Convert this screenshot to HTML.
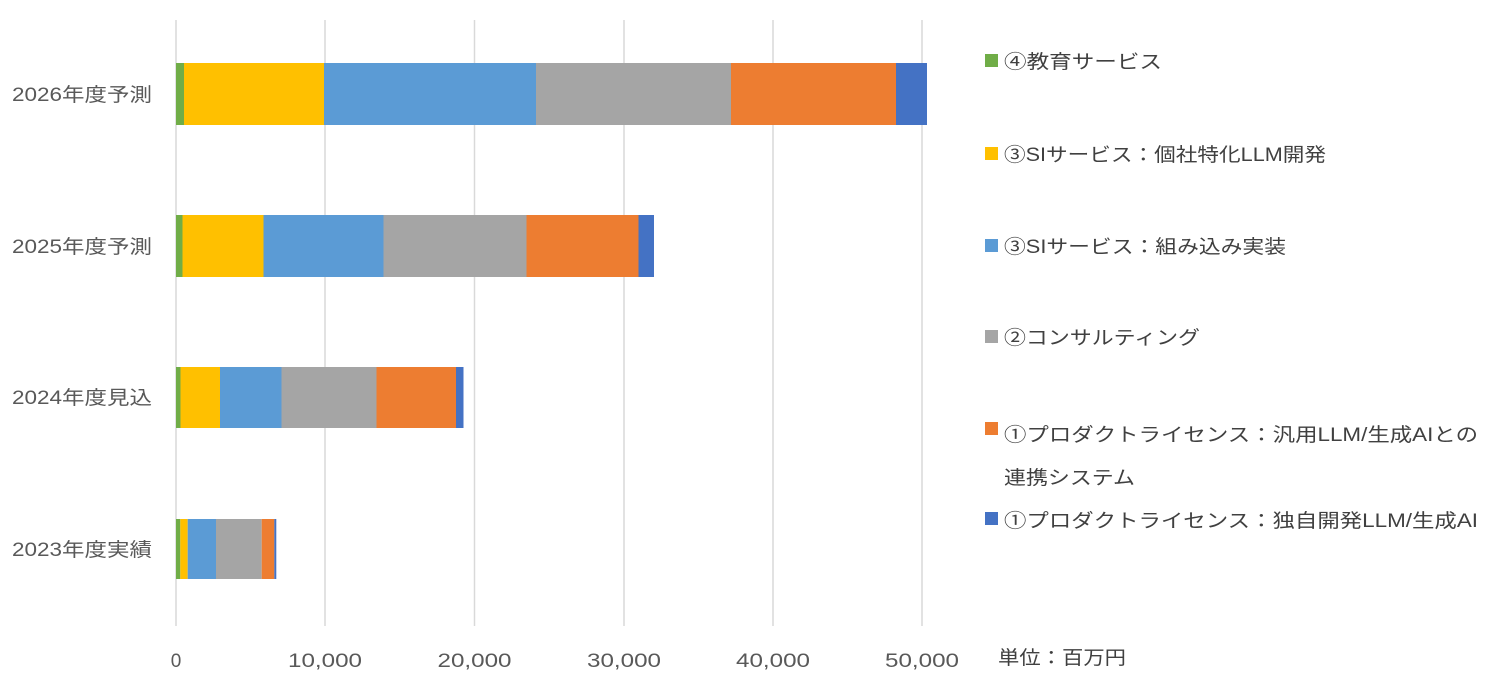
<!DOCTYPE html>
<html><head><meta charset="utf-8"><style>
body{margin:0;background:#fff;}
svg{display:block;font-family:"Liberation Sans","Noto Sans CJK JP",sans-serif;}
</style></head><body>
<svg width="1496" height="681" viewBox="0 0 1496 681">
<g stroke="#d9d9d9" stroke-width="1.5">
<line x1="176" y1="20" x2="176" y2="626"/>
<line x1="325" y1="20" x2="325" y2="626"/>
<line x1="474.5" y1="20" x2="474.5" y2="626"/>
<line x1="624" y1="20" x2="624" y2="626"/>
<line x1="773" y1="20" x2="773" y2="626"/>
<line x1="922" y1="20" x2="922" y2="626"/>
</g>
<rect x="176" y="63" width="8" height="62" fill="#70ad47"/>
<rect x="184" y="63" width="140" height="62" fill="#ffc000"/>
<rect x="324" y="63" width="212" height="62" fill="#5b9bd5"/>
<rect x="536" y="63" width="195" height="62" fill="#a5a5a5"/>
<rect x="731" y="63" width="165" height="62" fill="#ed7d31"/>
<rect x="896" y="63" width="31" height="62" fill="#4472c4"/>
<rect x="176" y="215" width="6.5" height="62" fill="#70ad47"/>
<rect x="182.5" y="215" width="81" height="62" fill="#ffc000"/>
<rect x="263.5" y="215" width="120" height="62" fill="#5b9bd5"/>
<rect x="383.5" y="215" width="143" height="62" fill="#a5a5a5"/>
<rect x="526.5" y="215" width="112" height="62" fill="#ed7d31"/>
<rect x="638.5" y="215" width="15.5" height="62" fill="#4472c4"/>
<rect x="176" y="367" width="4.5" height="61" fill="#70ad47"/>
<rect x="180.5" y="367" width="39.5" height="61" fill="#ffc000"/>
<rect x="220" y="367" width="61.5" height="61" fill="#5b9bd5"/>
<rect x="281.5" y="367" width="95" height="61" fill="#a5a5a5"/>
<rect x="376.5" y="367" width="79.5" height="61" fill="#ed7d31"/>
<rect x="456" y="367" width="7.5" height="61" fill="#4472c4"/>
<rect x="176" y="519" width="4.3" height="60" fill="#70ad47"/>
<rect x="180.3" y="519" width="7.4" height="60" fill="#ffc000"/>
<rect x="187.7" y="519" width="28.3" height="60" fill="#5b9bd5"/>
<rect x="216" y="519" width="45.7" height="60" fill="#a5a5a5"/>
<rect x="261.7" y="519" width="12.6" height="60" fill="#ed7d31"/>
<rect x="274.3" y="519" width="2" height="60" fill="#4472c4"/>
<g font-size="19" fill="#595959">
<text x="12" y="101" textLength="140" lengthAdjust="spacingAndGlyphs">2026年度予測</text>
<text x="12" y="253" textLength="140" lengthAdjust="spacingAndGlyphs">2025年度予測</text>
<text x="12" y="404" textLength="140" lengthAdjust="spacingAndGlyphs">2024年度見込</text>
<text x="12" y="556" textLength="140" lengthAdjust="spacingAndGlyphs">2023年度実績</text>
</g>
<g font-size="19" fill="#595959" text-anchor="middle">
<text x="176" y="667">0</text>
<text x="325" y="667" textLength="74" lengthAdjust="spacingAndGlyphs">10,000</text>
<text x="474.5" y="667" textLength="74" lengthAdjust="spacingAndGlyphs">20,000</text>
<text x="624" y="667" textLength="74" lengthAdjust="spacingAndGlyphs">30,000</text>
<text x="773" y="667" textLength="74" lengthAdjust="spacingAndGlyphs">40,000</text>
<text x="922" y="667" textLength="74" lengthAdjust="spacingAndGlyphs">50,000</text>
</g>
<rect x="985" y="54" width="13" height="13" fill="#70ad47"/>
<rect x="985" y="147" width="13" height="13" fill="#ffc000"/>
<rect x="985" y="239" width="13" height="13" fill="#5b9bd5"/>
<rect x="985" y="330" width="13" height="13" fill="#a5a5a5"/>
<rect x="985" y="422" width="13" height="13" fill="#ed7d31"/>
<rect x="985" y="512" width="13" height="13" fill="#4472c4"/>
<g font-size="19" fill="#404040" lengthAdjust="spacingAndGlyphs">
<text x="1004" y="68" textLength="158" lengthAdjust="spacingAndGlyphs">④教育サービス</text>
<text x="1004" y="161" textLength="322" lengthAdjust="spacingAndGlyphs">③SIサービス：個社特化LLM開発</text>
<text x="1004" y="253" textLength="282" lengthAdjust="spacingAndGlyphs">③SIサービス：組み込み実装</text>
<text x="1004" y="344" textLength="196" lengthAdjust="spacingAndGlyphs">②コンサルティング</text>
<text x="1004" y="441" textLength="474" lengthAdjust="spacingAndGlyphs">①プロダクトライセンス：汎用LLM/生成AIとの</text>
<text x="1004" y="484" textLength="131" lengthAdjust="spacingAndGlyphs">連携システム</text>
<text x="1004" y="527" textLength="474" lengthAdjust="spacingAndGlyphs">①プロダクトライセンス：独自開発LLM/生成AI</text>
<text x="998" y="664" textLength="128" lengthAdjust="spacingAndGlyphs">単位：百万円</text>
</g>
</svg>
</body></html>
